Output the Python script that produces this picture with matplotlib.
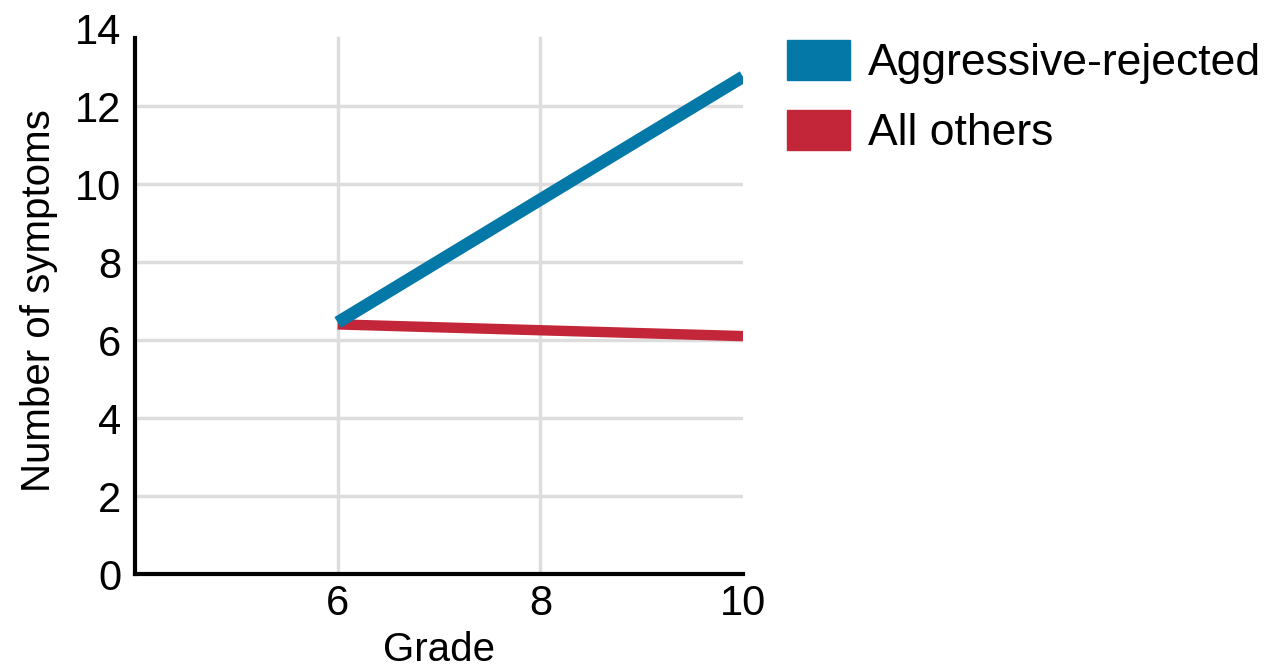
import numpy as np
import matplotlib.pyplot as plt
from matplotlib.patches import Patch

# データ
grade = [6, 10]
aggressive = [6.45, 12.75]
others = [6.4, 6.1]
labels = ["Aggressive-rejected", "All others"]
colors = ["#0479a8", "#c42639"]

plt.rcParams['font.family'] = ['Liberation Sans', 'DejaVu Sans']

fig = plt.figure(figsize=(12.68, 6.71), dpi=100)
ax = fig.add_axes([135/1268, 1-574/671, (743-135)/1268, (574-28)/671])

ax.plot(grade, aggressive, color=colors[0], lw=9, solid_capstyle="butt", zorder=3)
ax.plot(grade, others, color=colors[1], lw=7.5, solid_capstyle="butt", zorder=2)

ax.set_xlim(4, 10)
ax.set_ylim(0, 14)
ax.set_xticks([6, 8, 10])
ax.set_yticks(range(0, 15, 2))
# グリッド
for y in range(2, 13, 2):
    ax.axhline(y, color="#dddddd", lw=2.5, zorder=0)
for x in [6, 8]:
    ax.plot([x, x], [0, 13.75], color="#dddddd", lw=2.5, zorder=0)

for s in ["top", "right"]:
    ax.spines[s].set_visible(False)
ax.spines["left"].set_bounds(0, 13.75)
ax.spines["left"].set_linewidth(3)
ax.spines["bottom"].set_linewidth(3)
ax.tick_params(length=0, labelsize=30)
ax.tick_params(axis="y", pad=10)
ax.tick_params(axis="x", pad=7)
ax.set_xlabel("Grade", fontsize=29, labelpad=5)
ax.set_ylabel("Number of symptoms", fontsize=29, labelpad=12)

# 凡例
handles = [Patch(color=c) for c in colors]
fig.legend(handles, labels, loc="upper left", bbox_to_anchor=(787/1268, 1-40/671),
           frameon=False, fontsize=32, handlelength=1.42, handleheight=1.0,
           labelspacing=0.58, handletextpad=0.4, borderpad=0, borderaxespad=0)

plt.savefig("out.png")
